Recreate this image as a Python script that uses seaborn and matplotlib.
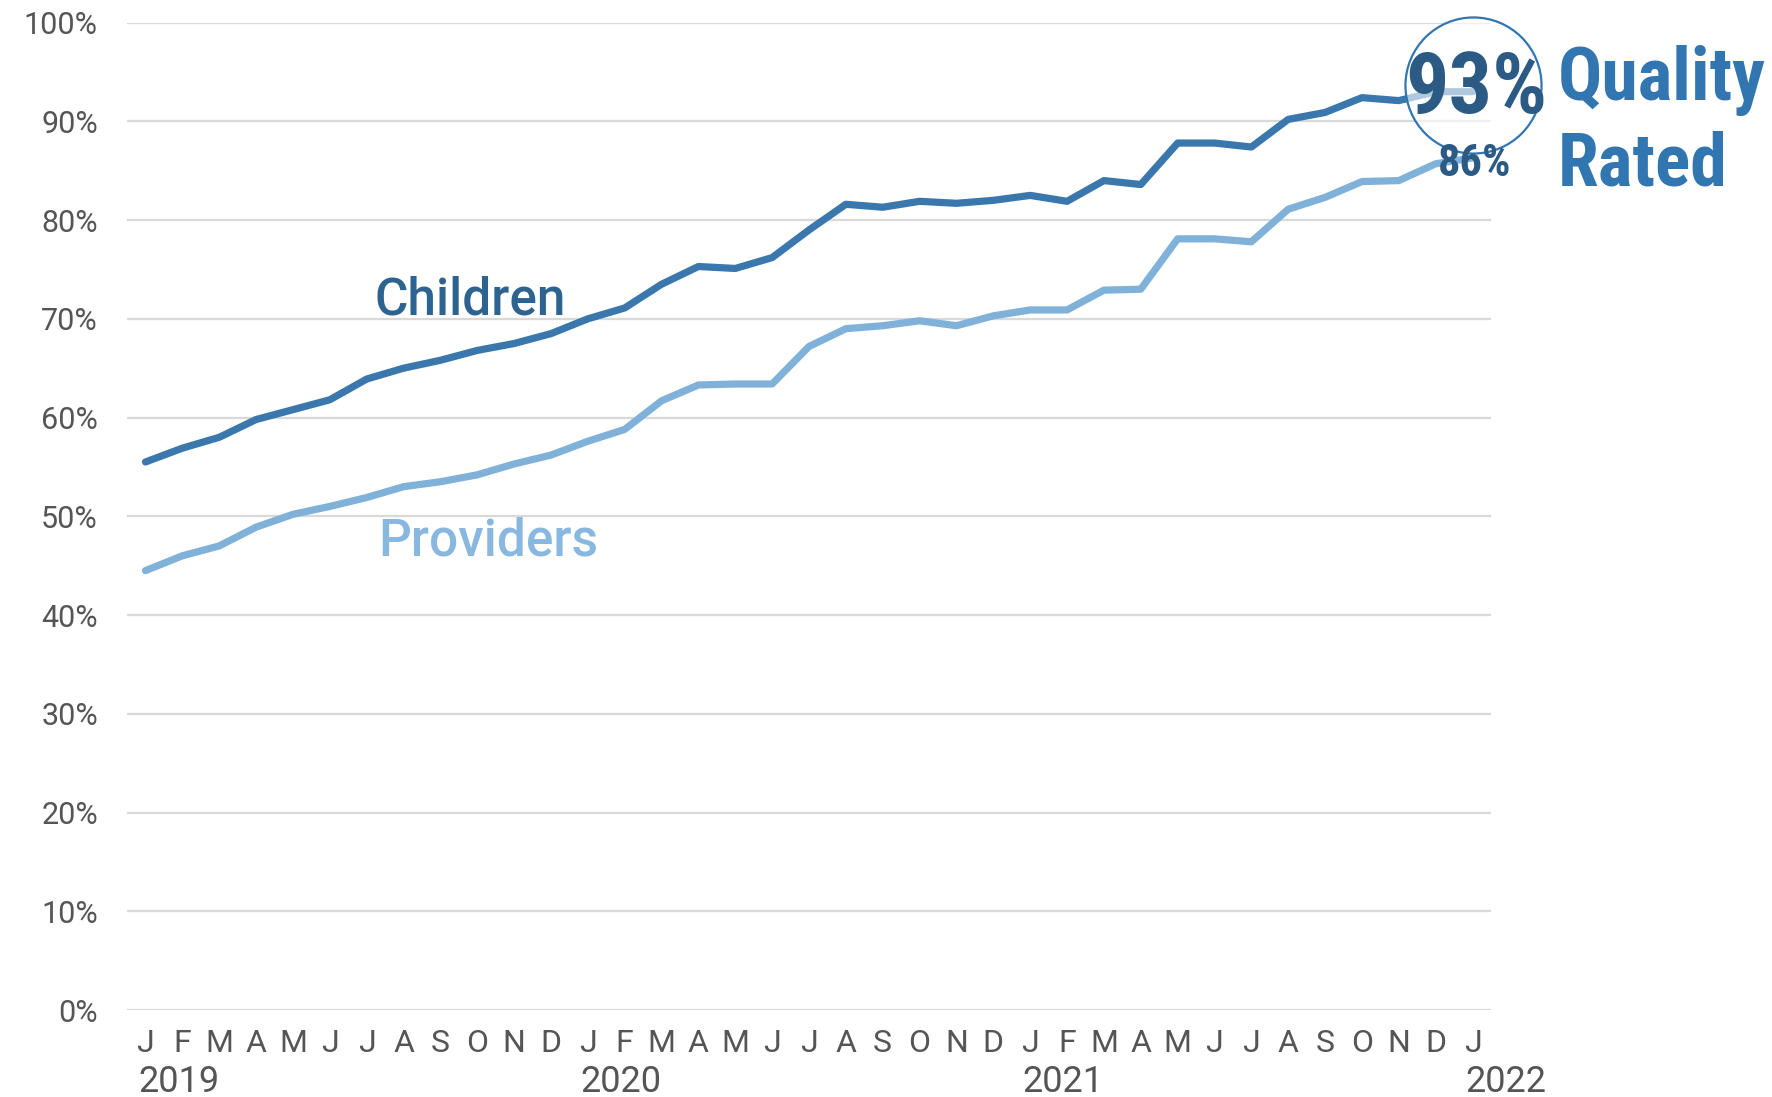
import pandas as pd
import matplotlib.pyplot as plt
import matplotlib.ticker as mticker
import matplotlib.transforms as mtransforms
import seaborn as sns

# ── Data ──
MONTHS = ["J", "F", "M", "A", "M", "J", "J", "A", "S", "O", "N", "D"] * 3 + ["J"]
YEARS = ["2019", "2020", "2021", "2022"]
CHILDREN = [55.5, 56.9, 58.0, 59.8, 60.8, 61.8, 63.9, 65.0, 65.8, 66.8, 67.5, 68.5,
            70.0, 71.1, 73.5, 75.3, 75.1, 76.2, 79.0, 81.6, 81.3, 81.9, 81.7, 82.0,
            82.5, 81.9, 84.0, 83.6, 87.8, 87.8, 87.4, 90.2, 90.9, 92.4, 92.1, 93.0, 93.0]
PROVIDERS = [44.5, 46.0, 47.0, 48.9, 50.2, 51.0, 51.9, 53.0, 53.5, 54.2, 55.3, 56.2,
             57.6, 58.8, 61.7, 63.3, 63.4, 63.4, 67.2, 69.0, 69.3, 69.8, 69.3, 70.3,
             70.9, 70.9, 72.9, 73.0, 78.1, 78.1, 77.8, 81.1, 82.3, 83.9, 84.0, 85.7, 86.3]

# ── Style ──
DARK_TXT = "#2b5b84"
CHILD_LN = "#3a77ad"
CHILD_TX = "#2d6391"
PROV_LN = "#7fb1d9"
PROV_TX = "#88b8e0"
QR_BLUE = "#3276b1"
GRID = "#d9d9d9"
TICK = "#555555"
BODY = ["Roboto", "DejaVu Sans"]
COND = ["Roboto Condensed", "DejaVu Sans"]

sns.set_theme(style="white")
plt.rcParams["font.family"] = BODY

idx = list(range(len(MONTHS)))
df = pd.DataFrame({
    "month": idx * 2,
    "pct": CHILDREN + PROVIDERS,
    "series": ["Children"] * len(idx) + ["Providers"] * len(idx),
})

fig = plt.figure(figsize=(17.72, 10.97), dpi=100)
ax = fig.add_axes([0.0717, 0.0793, 0.7697, 0.9001])

sns.lineplot(data=df, x="month", y="pct", hue="series",
             palette={"Children": CHILD_LN, "Providers": PROV_LN},
             linewidth=5.2, legend=False, ax=ax, zorder=3)

ax.set_xlim(-0.5, 36.5)
ax.set_ylim(0, 100)
ax.set_yticks(range(0, 101, 10))
ax.yaxis.set_major_formatter(mticker.FuncFormatter(lambda v, _: f"{int(v)}%"))
ax.set_xticks(idx)
ax.set_xticklabels(MONTHS)
ax.tick_params(axis="y", length=0, pad=21, labelsize=22, labelcolor=TICK)
ax.tick_params(axis="x", length=0, pad=14, labelsize=23, labelcolor=TICK)
ax.set_xlabel("")
ax.set_ylabel("")
for s in ax.spines.values():
    s.set_visible(False)
ax.grid(axis="y", color=GRID, linewidth=1.6, zorder=0)
ax.grid(axis="x", visible=False)

# year labels under January ticks
trans = mtransforms.blended_transform_factory(ax.transData, ax.transAxes)
for k, yr in enumerate(YEARS):
    ax.text(k * 12 - 0.2, -0.073, yr, transform=trans, ha="left", va="center",
            fontsize=26, color=TICK)

# series labels
ax.text(8.8, 71.9, "Children", ha="center", va="center", fontsize=37,
        fontweight="medium", color=CHILD_TX)
ax.text(9.3, 47.4, "Providers", ha="center", va="center", fontsize=37,
        fontweight="medium", color=PROV_TX)

# highlight circle + end values
ax.scatter([36.0], [93.7], s=9600, facecolor=(1, 1, 1, 0.6),
           edgecolor=QR_BLUE, linewidth=1.6, zorder=5, clip_on=False)
ax.text(36.1, 93.2, "93%", ha="center", va="center", fontsize=62, family=COND,
        fontweight="bold", color=DARK_TXT, zorder=6, clip_on=False)
ax.text(36.05, 85.7, "86%", ha="center", va="center", fontsize=32, family=COND,
        fontweight="bold", color=DARK_TXT, zorder=6, clip_on=False)
ax.text(38.3, 94.1, "Quality", ha="left", va="center", fontsize=53, family=COND,
        fontweight="bold", color=QR_BLUE, clip_on=False)
ax.text(38.3, 85.5, "Rated", ha="left", va="center", fontsize=53, family=COND,
        fontweight="bold", color=QR_BLUE, clip_on=False)

fig.savefig("out.png", dpi=100, facecolor="white")
